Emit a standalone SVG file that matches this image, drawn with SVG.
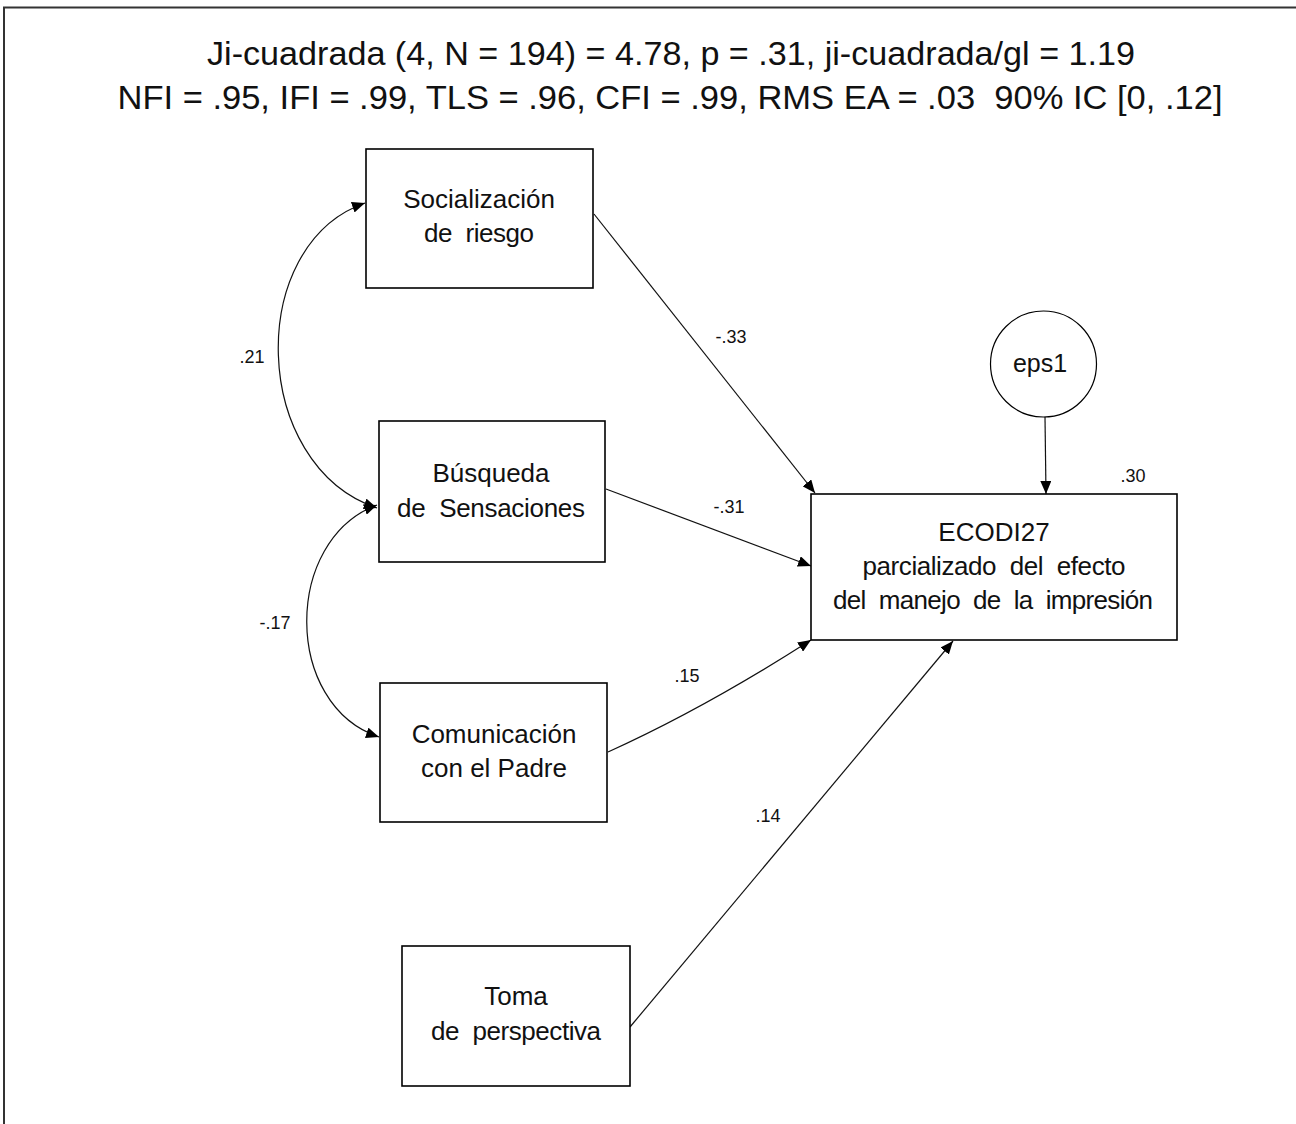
<svg xmlns="http://www.w3.org/2000/svg" width="1296" height="1124" viewBox="0 0 1296 1124" xml:space="preserve">
<defs>
<style>
text{white-space:pre}
.box{fill:#fff;stroke:#000;stroke-width:1.6}
.t{font-family:"Liberation Sans",Arial,sans-serif;font-size:26px;fill:#111;text-anchor:middle}
.title{font-family:"Liberation Sans",Arial,sans-serif;font-size:33px;fill:#111;text-anchor:middle}
.lbl{font-family:"Liberation Sans",Arial,sans-serif;font-size:18px;fill:#111;text-anchor:middle}
.edge{fill:none;stroke:#111;stroke-width:1.2}
.frame{fill:none;stroke:#333;stroke-width:2}
</style>
<marker id="ah" markerUnits="userSpaceOnUse" markerWidth="13" markerHeight="11" refX="13" refY="5.5" orient="auto-start-reverse">
<path d="M0,0 L13,5.5 L0,11 z" fill="#000"/>
</marker>
</defs>
<rect width="1296" height="1124" fill="#fff"/>
<path class="frame" d="M4,1124 V7.5 H1296"/>
<g id="title">
<text class="title" x="671" y="65" textLength="928" lengthAdjust="spacingAndGlyphs">Ji-cuadrada (4, N = 194) = 4.78, p = .31, ji-cuadrada/gl = 1.19</text>
<text class="title" x="670" y="109" textLength="1105" lengthAdjust="spacingAndGlyphs">NFI = .95, IFI = .99, TLS = .96, CFI = .99, RMS EA = .03  90% IC [0, .12]</text>
</g>
<g id="connectors">
<path class="edge" d="M594,214 L815,493" marker-end="url(#ah)"/>
<path class="edge" d="M606,489 L811,566" marker-end="url(#ah)"/>
<path class="edge" d="M608,752 Q705,708 811,640" marker-end="url(#ah)"/>
<path class="edge" d="M630,1027 L953,641" marker-end="url(#ah)"/>
<path class="edge" d="M1045,417 L1046,494" marker-end="url(#ah)"/>
<path class="edge" d="M365,203 C245,245 250,465 377,508" marker-start="url(#ah)" marker-end="url(#ah)"/>
<path class="edge" d="M377,505 C283,540 283,705 379,737" marker-start="url(#ah)" marker-end="url(#ah)"/>
<text class="lbl" x="252" y="363">.21</text>
<text class="lbl" x="275" y="629">-.17</text>
<text class="lbl" x="731" y="343">-.33</text>
<text class="lbl" x="729" y="513">-.31</text>
<text class="lbl" x="687" y="682">.15</text>
<text class="lbl" x="768" y="822">.14</text>
<text class="lbl" x="1133" y="482">.30</text>
</g>
<g id="socializacion">
<rect class="box" x="366" y="149" width="227" height="139"/>
<text class="t" x="479" y="208">Socialización</text>
<text class="t" x="479" y="242" textLength="110">de  riesgo</text>
</g>
<g id="busqueda">
<rect class="box" x="379" y="421" width="226" height="141"/>
<text class="t" x="491" y="482">Búsqueda</text>
<text class="t" x="491" y="517" textLength="188">de  Sensaciones</text>
</g>
<g id="comunicacion">
<rect class="box" x="380" y="683" width="227" height="139"/>
<text class="t" x="494" y="743">Comunicación</text>
<text class="t" x="494" y="777">con el Padre</text>
</g>
<g id="toma">
<rect class="box" x="402" y="946" width="228" height="140"/>
<text class="t" x="516" y="1005">Toma</text>
<text class="t" x="516" y="1040" textLength="170">de  perspectiva</text>
</g>
<g id="ecodi27">
<rect class="box" x="811" y="494" width="366" height="146"/>
<text class="t" x="994" y="541">ECODI27</text>
<text class="t" x="994" y="575" textLength="263">parcializado  del  efecto</text>
<text class="t" x="993" y="609" textLength="320">del  manejo  de  la  impresión</text>
</g>
<g id="eps1">
<circle cx="1043.5" cy="364" r="53" fill="#fff" stroke="#000" stroke-width="1.2"/>
<text class="t" x="1040" y="372" style="font-size:25px">eps1</text>
</g>
</svg>
